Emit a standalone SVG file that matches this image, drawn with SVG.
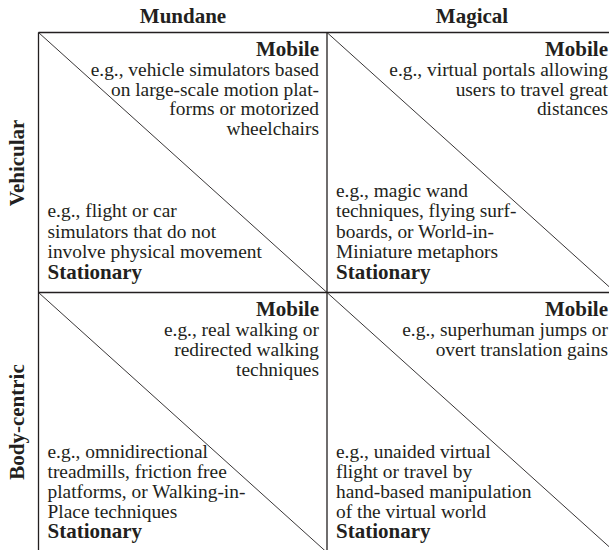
<svg xmlns="http://www.w3.org/2000/svg" width="609" height="550" viewBox="0 0 609 550">
<style>
.hdr{font-family:"Liberation Serif","Times New Roman",serif;font-weight:bold;font-size:21px;fill:#231f20}
.lbl{font-family:"Liberation Serif","Times New Roman",serif;font-weight:bold;font-size:21px;fill:#231f20}
.txt{font-family:"Liberation Serif","Times New Roman",serif;font-size:19.4px;fill:#231f20}
.r{text-anchor:end}
.grid{stroke:#231f20;stroke-width:1.3;fill:none}
.diag{stroke:#231f20;stroke-width:0.9;fill:none}
</style>
<rect width="609" height="550" fill="#ffffff"/>
<g id="headers">
<text class="hdr" x="183" y="23" text-anchor="middle">Mundane</text>
<text class="hdr" x="472" y="23" text-anchor="middle">Magical</text>
<text class="hdr" transform="translate(24,163) rotate(-90)" text-anchor="middle">Vehicular</text>
<text class="hdr" transform="translate(24,422) rotate(-90)" text-anchor="middle">Body-centric</text>
</g>
<g id="connectors">
<line class="grid" x1="38.5" y1="32.5" x2="616" y2="32.5"/>
<line class="grid" x1="38.5" y1="292.5" x2="616" y2="292.5"/>
<line class="grid" x1="38.5" y1="32.5" x2="38.5" y2="552"/>
<line class="grid" x1="327" y1="32.5" x2="327" y2="552"/>
<line class="diag" x1="38.5" y1="32.5" x2="327" y2="292.5"/>
<line class="diag" x1="327" y1="32.5" x2="615.5" y2="292.5"/>
<line class="diag" x1="38.5" y1="292.5" x2="327" y2="552.5"/>
<line class="diag" x1="327" y1="292.5" x2="615.5" y2="552.5"/>
</g>
<g id="cell-vehicular-mundane">
<text class="lbl r" x="319" y="56">Mobile</text>
<text class="txt r" x="319" y="76">e.g., vehicle simulators based</text>
<text class="txt r" x="319" y="95.7">on large-scale motion plat-</text>
<text class="txt r" x="319" y="115.4">forms or motorized</text>
<text class="txt r" x="319" y="135">wheelchairs</text>
<text class="txt" x="47.5" y="217">e.g., flight or car</text>
<text class="txt" x="47.5" y="237.5">simulators that do not</text>
<text class="txt" x="47.5" y="258">involve physical movement</text>
<text class="lbl" x="47.5" y="278.5">Stationary</text>
</g>
<g id="cell-vehicular-magical">
<text class="lbl r" x="608" y="56">Mobile</text>
<text class="txt r" x="608" y="76">e.g., virtual portals allowing</text>
<text class="txt r" x="608" y="95.7">users to travel great</text>
<text class="txt r" x="608" y="115.4">distances</text>
<text class="txt" x="336" y="196.5">e.g., magic wand</text>
<text class="txt" x="336" y="217">techniques, flying surf-</text>
<text class="txt" x="336" y="237.5">boards, or World-in-</text>
<text class="txt" x="336" y="258">Miniature metaphors</text>
<text class="lbl" x="336" y="278.5">Stationary</text>
</g>
<g id="cell-bodycentric-mundane">
<text class="lbl r" x="319" y="316">Mobile</text>
<text class="txt r" x="319" y="335.7">e.g., real walking or</text>
<text class="txt r" x="319" y="355.7">redirected walking</text>
<text class="txt r" x="319" y="375.7">techniques</text>
<text class="txt" x="47.5" y="458">e.g., omnidirectional</text>
<text class="txt" x="47.5" y="478">treadmills, friction free</text>
<text class="txt" x="47.5" y="498">platforms, or Walking-in-</text>
<text class="txt" x="47.5" y="518">Place techniques</text>
<text class="lbl" x="47.5" y="538">Stationary</text>
</g>
<g id="cell-bodycentric-magical">
<text class="lbl r" x="608" y="316">Mobile</text>
<text class="txt r" x="608" y="335.7">e.g., superhuman jumps or</text>
<text class="txt r" x="608" y="356">overt translation gains</text>
<text class="txt" x="336" y="458">e.g., unaided virtual</text>
<text class="txt" x="336" y="478">flight or travel by</text>
<text class="txt" x="336" y="498">hand-based manipulation</text>
<text class="txt" x="336" y="518">of the virtual world</text>
<text class="lbl" x="336" y="538">Stationary</text>
</g>
</svg>
